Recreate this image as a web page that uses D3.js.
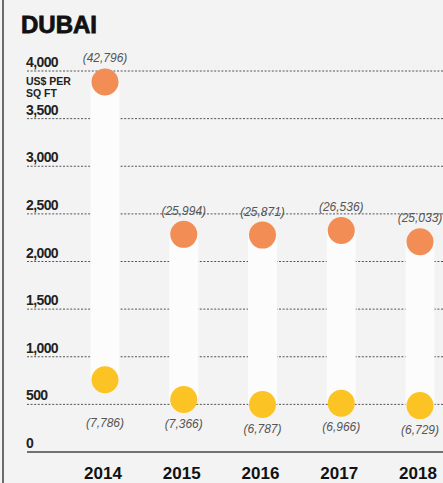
<!DOCTYPE html>
<html><head><meta charset="utf-8">
<script src="https://cdn.jsdelivr.net/npm/d3@7"></script>
<style>
html,body{margin:0;padding:0;background:#f3f3f3;}
svg{display:block;}
</style></head>
<body>
<script>
const years = ["2014","2015","2016","2017","2018"];
const highValues = [3885, 2285, 2277, 2326, 2207];
const lowValues = [758, 551, 498, 512, 487];
const highLabels = ["(42,796)","(25,994)","(25,871)","(26,536)","(25,033)"];
const lowLabels = ["(7,786)","(7,366)","(6,787)","(6,966)","(6,729)"];
const yTicks = [0,500,1000,1500,2000,2500,3000,3500,4000];
const tickLabels = ["0","500","1,000","1,500","2,000","2,500","3,000","3,500","4,000"];

const W = 443, H = 483;
const svg = d3.select("body").append("svg").attr("width", W).attr("height", H);
svg.append("rect").attr("width", W).attr("height", H).attr("fill", "#f3f3f3");
svg.append("line").attr("x1", 3).attr("x2", 3).attr("y1", 0).attr("y2", H)
  .attr("stroke", "#111").attr("stroke-width", 1.2);

const font = "'Liberation Sans', Arial, Helvetica, sans-serif";
svg.append("text").attr("x", 21).attr("y", 33).text("DUBAI")
  .attr("font-family", font).attr("font-weight", "bold").attr("font-size", 24).attr("fill", "#111")
  .attr("stroke", "#111").attr("stroke-width", 0.8);

const y = d3.scaleLinear().domain([0, 4000]).range([452, 71]);
const x = d3.scalePoint().domain(years).range([105, 420]);

// gridlines
const grid = svg.append("g");
yTicks.forEach((t, i) => {
  grid.append("line").attr("x1", 27).attr("x2", W).attr("y1", y(t)).attr("y2", y(t))
    .attr("stroke", t === 0 ? "#444" : "#555")
    .attr("stroke-width", t === 0 ? 1.6 : 1)
    .attr("stroke-dasharray", t === 0 ? null : "2,1.6");
  grid.append("text").attr("x", 26).attr("y", y(t) - 4).text(tickLabels[i])
    .attr("font-family", font).attr("font-size", 14).attr("fill", "#222")
    .attr("font-weight", "bold").attr("letter-spacing", -0.6);
});
svg.append("text").attr("font-family", font).attr("font-weight", "bold")
  .attr("font-size", 10.5).attr("fill", "#222")
  .selectAll("tspan").data(["US$ PER", "SQ FT"]).join("tspan")
  .attr("x", 26).attr("y", (d, i) => 85 + i * 11.5).text(d => d);

const data = years.map((yr, i) => ({yr, hi: highValues[i], lo: lowValues[i], hl: highLabels[i], ll: lowLabels[i]}));
const r = 13.5;
const g = svg.append("g");
g.selectAll("rect.bar").data(data).join("rect")
  .attr("x", d => x(d.yr) - 14.5).attr("width", 29)
  .attr("y", d => y(d.hi)).attr("height", d => y(d.lo) - y(d.hi))
  .attr("fill", "#fcfcfc");
g.selectAll("circle.hi").data(data).join("circle")
  .attr("cx", d => x(d.yr)).attr("cy", d => y(d.hi)).attr("r", r).attr("fill", "#f28d55");
g.selectAll("circle.lo").data(data).join("circle")
  .attr("cx", d => x(d.yr)).attr("cy", d => y(d.lo)).attr("r", r).attr("fill", "#fbc424");
g.selectAll("text.hl").data(data).join("text")
  .attr("x", d => x(d.yr)).attr("y", d => y(d.hi) - r - 6).text(d => d.hl)
  .attr("text-anchor", "middle").attr("font-family", font).attr("font-style", "italic")
  .attr("font-size", 12).attr("fill", "#555");
g.selectAll("text.ll").data(data).join("text")
  .attr("x", d => x(d.yr)).attr("y", d => Math.max(y(d.lo) + 28, 427)).text(d => d.ll)
  .attr("text-anchor", "middle").attr("font-family", font).attr("font-style", "italic")
  .attr("font-size", 12).attr("fill", "#555");
g.selectAll("text.yr").data(data).join("text")
  .attr("x", d => x(d.yr) - 2).attr("y", 479).text(d => d.yr)
  .attr("text-anchor", "middle").attr("font-family", font).attr("font-weight", "bold")
  .attr("font-size", 17).attr("fill", "#111");
</script>
</body></html>
